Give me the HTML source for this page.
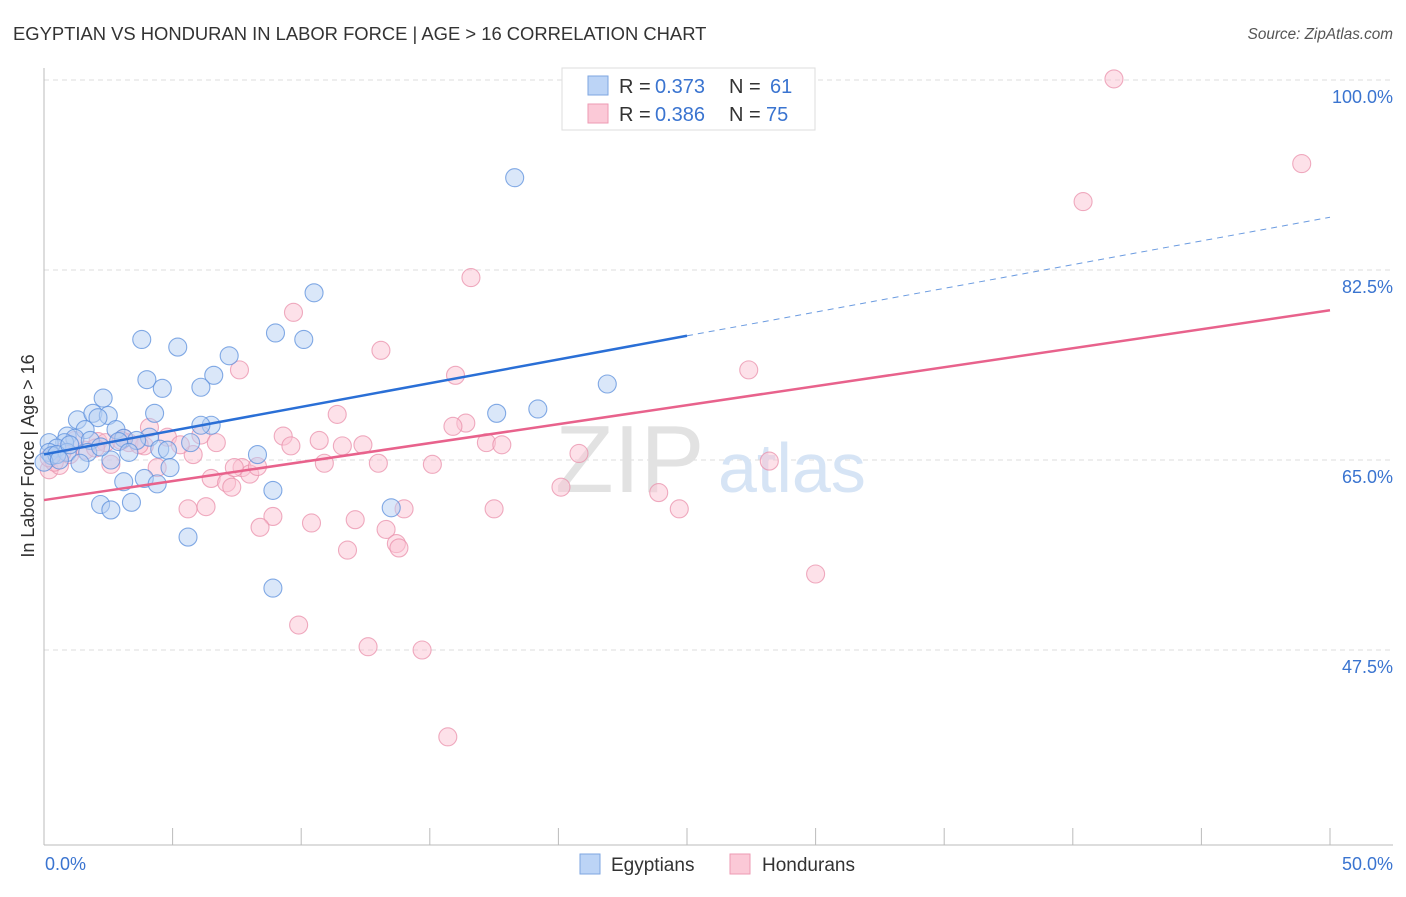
<!DOCTYPE html>
<html><head><meta charset="utf-8"><style>
body{margin:0;background:#fff;font-family:"Liberation Sans",sans-serif;}
svg text{font-family:"Liberation Sans",sans-serif;}
</style></head><body>
<svg width="1406" height="892" xmlns="http://www.w3.org/2000/svg">
<text x="13" y="40" font-size="18.4" fill="#333">EGYPTIAN VS HONDURAN IN LABOR FORCE | AGE &gt; 16 CORRELATION CHART</text>
<text x="1393" y="39" font-size="15.3" fill="#555" font-style="italic" text-anchor="end">Source: ZipAtlas.com</text>
<g id="grid"></g>
<g><text x="555" y="492" font-size="96" fill="#e2e2e2" font-family="Liberation Serif,serif">ZIP</text><text x="718" y="492" font-size="70" fill="#d6e4f5">atlas</text></g>
<line x1="44" y1="68" x2="44" y2="845" stroke="#bbb"/>
<line x1="44" y1="845" x2="1393" y2="845" stroke="#bbb"/>
<g id="ticks"></g>
<g id="pts"></g>
<g id="lines"></g>
<text x="34" y="456" font-size="18" fill="#333" transform="rotate(-90 34 456)" text-anchor="middle">In Labor Force | Age &gt; 16</text>
<text x="45" y="870" font-size="18" fill="#3a74d0">0.0%</text>
<text x="1393" y="870" font-size="18" fill="#3a74d0" text-anchor="end">50.0%</text>
<g>
<rect x="562" y="68" width="253" height="62" fill="#fff" stroke="#ddd"/>
<rect x="588" y="76" width="20" height="19" fill="#bcd4f6" stroke="#7ea6e0"/>
<rect x="588" y="104" width="20" height="19" fill="#fbc9d7" stroke="#ee9ab3"/>
<text x="619" y="93" font-size="20" fill="#333">R =</text>
<text x="655" y="93" font-size="20" fill="#3a74d0">0.373</text>
<text x="729" y="93" font-size="20" fill="#333">N =</text>
<text x="770" y="93" font-size="20" fill="#3a74d0">61</text>
<text x="619" y="121" font-size="20" fill="#333">R =</text>
<text x="655" y="121" font-size="20" fill="#3a74d0">0.386</text>
<text x="729" y="121" font-size="20" fill="#333">N =</text>
<text x="766" y="121" font-size="20" fill="#3a74d0">75</text>
</g>
<g>
<rect x="580" y="854" width="20" height="20" fill="#bcd4f6" stroke="#7ea6e0"/>
<text x="611" y="871" font-size="19" fill="#333">Egyptians</text>
<rect x="730" y="854" width="20" height="20" fill="#fbc9d7" stroke="#ee9ab3"/>
<text x="762" y="871" font-size="19" fill="#333">Hondurans</text>
</g>
</svg>
<script>
const yTicks=[100,82.5,65,47.5];
const yTickLabels=["100.0%","82.5%","65.0%","47.5%"];
const blueX=[18.3,10.5,3.8,5.2,9.0,10.1,7.2,4.0,4.6,6.6,6.1,2.3,4.3,1.3,1.9,2.5,2.1,6.5,6.1,1.6,2.8,0.9,1.2,3.1,4.1,2.9,3.6,1.8,0.8,0.2,0.5,0.2,0.3,0.9,1.7,0.5,3.3,4.5,4.8,5.7,8.3,2.6,1.4,4.9,3.9,3.1,4.4,8.9,2.2,3.4,2.6,5.6,13.5,8.9,17.6,19.2,21.9,0.0,1.0,0.6,2.2];
const blueY=[91.0,80.4,76.1,75.4,76.7,76.1,74.6,72.4,71.6,72.8,71.7,70.7,69.3,68.7,69.3,69.1,68.9,68.2,68.2,67.8,67.8,67.2,67.0,67.0,67.1,66.7,66.8,66.8,66.6,66.6,66.1,65.7,65.4,65.7,65.7,65.5,65.7,66.0,65.9,66.6,65.5,65.0,64.7,64.3,63.3,63.0,62.8,62.2,60.9,61.1,60.4,57.9,60.6,53.2,69.3,69.7,72.0,64.8,66.4,65.0,66.2];
const pinkX=[41.6,48.9,40.4,16.6,9.7,13.1,7.6,16.0,27.4,11.4,16.4,15.9,4.1,6.1,4.8,9.3,10.7,11.6,12.4,17.2,17.8,3.1,3.3,6.7,2.1,9.6,5.8,3.9,20.8,2.4,2.6,4.4,10.9,13.0,15.1,28.2,7.7,8.0,8.3,6.5,7.1,7.3,20.1,23.9,5.6,6.3,8.9,14.0,17.5,24.7,8.4,10.4,12.1,13.3,13.7,13.8,11.8,30.0,9.9,12.6,14.7,15.7,0.2,0.6,1.0,0.4,1.6,0.7,1.2,2.0,0.2,3.7,3.0,5.3,7.4];
const pinkY=[100.1,92.3,88.8,81.8,78.6,75.1,73.3,72.8,73.3,69.2,68.4,68.1,68.0,67.3,67.1,67.2,66.8,66.3,66.4,66.6,66.4,67.0,66.6,66.6,66.7,66.3,65.5,66.3,65.6,66.6,64.6,64.3,64.7,64.7,64.6,64.9,64.3,63.7,64.4,63.3,62.9,62.5,62.5,62.0,60.5,60.7,59.8,60.5,60.5,60.5,58.8,59.2,59.5,58.6,57.3,56.9,56.7,54.5,49.8,47.8,47.5,39.5,64.1,64.5,65.5,64.8,65.9,65.7,66.8,66.1,65.2,66.4,66.8,66.4,64.3];
const NS='http://www.w3.org/2000/svg';
const xs=v=>44+v*25.72, ys=v=>80+(100-v)*10.857;
function mk(t,a,p){const e=document.createElementNS(NS,t);for(const k in a)e.setAttribute(k,a[k]);p.appendChild(e);return e;}
const grid=document.getElementById('grid');
yTicks.forEach((t,i)=>{
 const l=mk('line',{x1:44,x2:1393,y1:ys(t),y2:ys(t),stroke:'#ddd','stroke-dasharray':'5,4'},grid);
 
 
 const tx=mk('text',{x:1393,y:ys(t)+23,'font-size':18,fill:'#3a74d0','text-anchor':'end'},grid);
 tx.textContent=yTickLabels[i];
 
 
});
const tk=document.getElementById('ticks');
for(let i=0;i<=10;i++){const l=mk('line',{x1:xs(i*5),x2:xs(i*5),y1:828,y2:845,stroke:'#bbb'},tk);
 
 }
const pts=document.getElementById('pts');
function draw(X,Y,f,s,name){X.forEach((x,i)=>{const c=mk('circle',{cx:xs(x),cy:ys(Y[i]),r:9,fill:f,'fill-opacity':0.5,stroke:s,'stroke-opacity':0.75,'stroke-width':1.1},pts);
 
 });}
draw(pinkX,pinkY,'#fbc3d3','#e990ab','honduran-point');
draw(blueX,blueY,'#b5cff3','#5b8fdc','egyptian-point');
function fit(X,Y){const n=X.length,mx=X.reduce((a,b)=>a+b)/n,my=Y.reduce((a,b)=>a+b)/n;let sxy=0,sxx=0;X.forEach((x,i)=>{sxy+=(x-mx)*(Y[i]-my);sxx+=(x-mx)**2});const b=sxy/sxx;return [my-b*mx,b];}
const L=document.getElementById('lines');
const [ba,bb]=fit(blueX,blueY),[pa,pb]=fit(pinkX,pinkY);
const bl=mk('line',{x1:xs(0),y1:ys(ba),x2:xs(25),y2:ys(ba+bb*25),stroke:'#2a6fd6','stroke-width':2.5},L);


const bd=mk('line',{x1:xs(25),y1:ys(ba+bb*25),x2:xs(50),y2:ys(ba+bb*50),stroke:'#6b9be0','stroke-width':1,'stroke-dasharray':'6,5'},L);


const pl=mk('line',{x1:xs(0),y1:ys(pa),x2:xs(50),y2:ys(pa+pb*50),stroke:'#e8628c','stroke-width':2.5},L);


</script>
</body></html>
